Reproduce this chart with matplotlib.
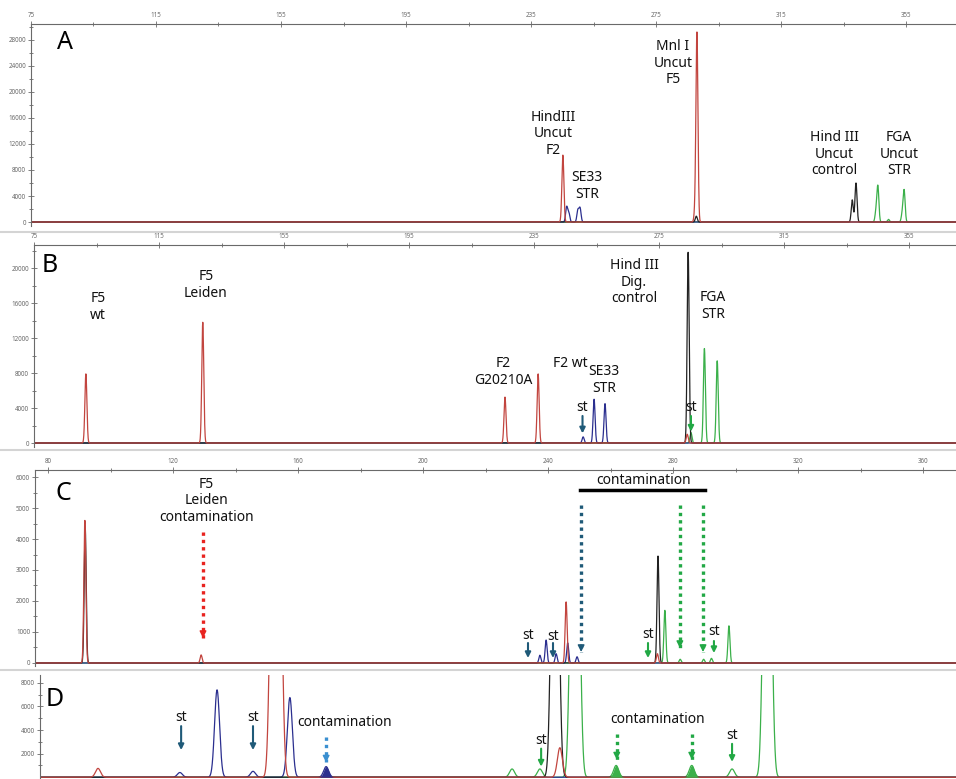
import matplotlib
matplotlib.use('Agg')
import matplotlib.pyplot as plt
import numpy as np

W, H = 956, 779

plt.rcParams['font.family'] = ['Noto Sans', 'DejaVu Sans']

RED = '#c2453f'
BLUE = '#2b2f8f'
BLACK = '#222222'
GREEN = '#3bb04a'
ST_BLUE = '#1f5a78'
ST_GREEN = '#22a845'
TICK = '#6a6a6a'

# peaks: (size in bp, height in RFU)
a_red = [(245.2, 10300), (288.1, 29000), (287.5, 1500)]
a_blue = [(246.4, 2300), (247.1, 1400), (250.0, 1800), (250.7, 2100)]
a_black = [(287.9, 900), (337.8, 3400), (339.0, 6000)]
a_green = [(345.4, 1500), (346.0, 5400), (349.4, 400), (353.8, 1200), (354.4, 4800)]

b_red = [(91.6, 7900), (129.0, 13800), (225.7, 5250), (236.3, 7900), (284.0, 1000)]
b_blue = [(250.7, 700), (254.2, 5000), (257.7, 4500)]
b_black = [(284.3, 21800)]
b_green = [(285.2, 1200), (289.5, 10800), (293.6, 9400)]

c_red = [(91.8, 4600), (129.0, 260), (245.8, 1970), (275.0, 300)]
c_black = [(91.9, 4400), (275.2, 3450)]
c_blue = [(237.4, 250), (239.4, 740), (242.6, 300), (246.3, 650), (249.3, 200)]
c_green = [(277.4, 1700), (282.3, 120), (289.8, 120), (292.3, 150), (297.9, 1200)]

d_red = [(96.0, 750), (151.7, 20000), (154.2, 20000), (243.8, 2500)]
d_blue = [(122.2, 400), (134.1, 7400), (145.6, 500), (157.4, 6750), (169.0, 900)]
d_black = [(241.6, 20000), (242.9, 20000)]
d_green = [(228.5, 700), (237.4, 700), (247.7, 20000), (249.6, 20000), (261.8, 1000),
           (286.0, 1000), (298.9, 700), (309.4, 20000), (311.0, 20000)]
d_filled = [(169.0, 900, BLUE), (261.8, 1000, GREEN), (286.0, 1000, GREEN)]

a_xticks = [75, 115, 155, 195, 235, 275, 315, 355]
c_xticks = [80, 120, 160, 200, 240, 280, 320, 360]


def px_axes(fig, left, top, bottom):
    return fig.add_axes([left / W, 1 - bottom / H, 1 - left / W, (bottom - top) / H])


def trace(x, peaks, width):
    y = np.zeros_like(x)
    for pos, height in peaks:
        y += height * np.exp(-0.5 * ((x - pos) / width) ** 2)
    return y


def draw_traces(ax, series, width):
    x0, x1 = ax.get_xlim()
    x = np.linspace(x0, x1, 8000)
    for peaks, color in series:
        ax.plot(x, trace(x, peaks, width), color=color, lw=0.9, zorder=2)


def style_axes(ax, xlim, ylim, xticks, yticks, yminor, top_axis=True):
    ax.spines['right'].set_visible(False)
    ax.spines['bottom'].set_visible(False)
    for s in ['top', 'left']:
        ax.spines[s].set_color(TICK)
        ax.spines[s].set_linewidth(0.8)
    ax.xaxis.tick_top()
    if top_axis:
        ax.set_xticks(xticks)
        step = xticks[1] - xticks[0]
        ax.set_xticks([t + step / 2 for t in xticks], minor=True)
    else:
        ax.spines['top'].set_visible(False)
        ax.set_xticks([])
    ax.set_yticks(yticks)
    ax.set_yticks(yminor, minor=True)
    # limits after the ticks, set_xticks would widen them otherwise
    ax.set_xlim(xlim)
    ax.set_ylim(ylim)
    ax.tick_params(axis='both', which='major', direction='inout', labelsize=4.5,
                   colors=TICK, length=4, width=0.6, pad=1.5)
    ax.tick_params(axis='both', which='minor', direction='inout', colors=TICK,
                   length=3, width=0.6)
    ax.patch.set_alpha(0)


def label(ax, x, y, text, size=10):
    ax.text(x, y, text, ha='center', va='center', fontsize=size, color='#111111',
            linespacing=1.15, zorder=5)


def st(ax, x, y_text, y_tail, y_head, color):
    label(ax, x, y_text, 'st')
    ax.annotate('', xy=(x, y_head), xytext=(x, y_tail),
                arrowprops=dict(arrowstyle='-|>', color=color, lw=1.5,
                                mutation_scale=8, shrinkA=0, shrinkB=0))


def dotted(ax, x, y_tail, y_head, color):
    # dotted shaft, solid head drawn over its end
    ax.plot([x, x], [y_tail, y_head], color=color, lw=2.4, ls=(0, (1, 1.2)), zorder=3)
    ax.annotate('', xy=(x, y_head), xytext=(0, 5), textcoords='offset points', zorder=4,
                arrowprops=dict(arrowstyle='-|>', color=color, lw=1,
                                mutation_scale=10, shrinkA=0, shrinkB=0))


fig = plt.figure(figsize=(W / 100, H / 100), dpi=100)

# panel A
ax = px_axes(fig, 31, 24, 226)
style_axes(ax, (75, 371), (-615, 30460), a_xticks, range(0, 28001, 4000),
           range(2000, 30001, 4000))
draw_traces(ax, [(a_green, GREEN), (a_blue, BLUE), (a_black, BLACK), (a_red, RED)], 0.32)
ax.text(85.9, 27540, 'A', fontsize=18, ha='center', va='center')
label(ax, 242, 13540, 'HindIII\nUncut\nF2')
label(ax, 252.9, 5540, 'SE33\nSTR')
label(ax, 280.4, 24460, 'Mnl I\nUncut\nF5')
label(ax, 332, 10460, 'Hind III\nUncut\ncontrol')
label(ax, 352.8, 10460, 'FGA\nUncut\nSTR')

# panel B
ax = px_axes(fig, 34, 245, 447)
style_axes(ax, (75, 370), (-457, 22630), a_xticks, range(0, 20001, 4000),
           range(2000, 22001, 4000))
draw_traces(ax, [(b_green, GREEN), (b_blue, BLUE), (b_black, BLACK), (b_red, RED)], 0.32)
ax.text(80, 20340, 'B', fontsize=18, ha='center', va='center')
label(ax, 95.5, 15540, 'F5\nwt')
label(ax, 130, 18060, 'F5\nLeiden')
label(ax, 225, 8110, 'F2\nG20210A')
label(ax, 246.5, 9140, 'F2 wt')
label(ax, 257.4, 7200, 'SE33\nSTR')
label(ax, 267, 18400, 'Hind III\nDig.\ncontrol')
label(ax, 292.3, 15660, 'FGA\nSTR')
st(ax, 250.5, 4110, 3090, 1100, ST_BLUE)
st(ax, 285.2, 4110, 3090, 1300, ST_GREEN)

# panel C
ax = px_axes(fig, 35, 470, 666)
style_axes(ax, (75.84, 370.56), (-97, 6226), c_xticks, range(0, 6001, 1000),
           range(500, 6001, 1000))
draw_traces(ax, [(c_green, GREEN), (c_blue, BLUE), (c_black, BLACK), (c_red, RED)], 0.32)
ax.text(84.8, 5480, 'C', fontsize=18, ha='center', va='center')
label(ax, 130.6, 5226, 'F5\nLeiden\ncontamination')
dotted(ax, 129.6, 4226, 806, '#e8231f')
label(ax, 270.7, 5900, 'contamination')
ax.plot([250.2, 290.2], [5580, 5580], color='black', lw=2.5)
dotted(ax, 250.6, 5100, 355, ST_BLUE)
dotted(ax, 282.2, 5100, 484, ST_GREEN)
dotted(ax, 289.6, 5100, 355, ST_GREEN)
st(ax, 233.6, 903, 645, 160, ST_BLUE)
st(ax, 241.6, 870, 645, 160, ST_BLUE)
st(ax, 272.0, 935, 645, 160, ST_GREEN)
st(ax, 293.1, 1000, 710, 320, ST_GREEN)

# panel D
ax = px_axes(fig, 40, 675, 779)
style_axes(ax, (77.44, 370.56), (-150, 8660), c_xticks, range(2000, 8001, 2000),
           range(1000, 8001, 2000), top_axis=False)
draw_traces(ax, [(d_green, GREEN), (d_blue, BLUE), (d_black, BLACK), (d_red, RED)], 0.8)
x0, x1 = ax.get_xlim()
x = np.linspace(x0, x1, 8000)
for pos, height, color in d_filled:
    ax.fill_between(x, trace(x, [(pos, height)], 0.8), color=color, lw=0, zorder=2)
ax.text(82.2, 6580, 'D', fontsize=18, ha='center', va='center')
label(ax, 175, 4670, 'contamination')
label(ax, 275.2, 4920, 'contamination')
st(ax, 122.6, 5080, 4330, 2300, ST_BLUE)
st(ax, 145.6, 5080, 4330, 2300, ST_BLUE)
st(ax, 237.8, 3080, 2420, 900, ST_GREEN)
st(ax, 298.9, 3500, 2830, 1300, ST_GREEN)
dotted(ax, 169.0, 3420, 1250, '#3a8fd0')
dotted(ax, 262.0, 3670, 1500, ST_GREEN)
dotted(ax, 286.0, 3670, 1500, ST_GREEN)

# separators between the panels
for ypx in [232, 450, 670]:
    fig.add_artist(plt.Line2D([0, 1], [1 - ypx / H, 1 - ypx / H], transform=fig.transFigure,
                              color='#d4d4d4', lw=1.5))

fig.savefig('out.png', dpi=100)
